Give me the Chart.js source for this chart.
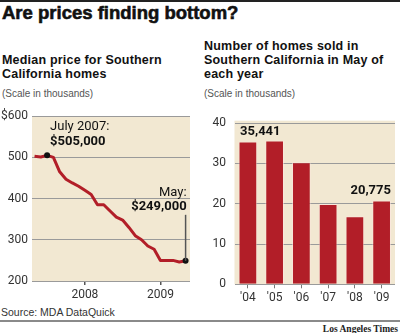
<!DOCTYPE html>
<html>
<head>
<meta charset="utf-8">
<script src="https://cdn.jsdelivr.net/npm/chart.js@4.4.0/dist/chart.umd.min.js"></script>
<style>
  html, body { margin: 0; padding: 0; background: #fff; }
  body { width: 400px; height: 333px; position: relative; overflow: hidden; font-family: 'Liberation Sans', Arial, sans-serif; color: #111; }
  .rule-top { position: absolute; left: 0; top: 0; width: 400px; height: 2px; background: #222; }
  .rule-bottom { position: absolute; left: 0; top: 320px; width: 400px; height: 2px; background: #8a8a8a; }
  .title { position: absolute; left: 2px; top: 1px; font-size: 18.5px; font-weight: 700; line-height: 24px; -webkit-text-stroke: 0.6px #111; white-space: nowrap; }
  .sub { position: absolute; font-size: 12.5px; font-weight: 700; line-height: 13.7px; letter-spacing: 0.2px; white-space: nowrap; }
  .note { position: absolute; font-size: 10px; color: #555; line-height: 12px; white-space: nowrap; }
  .credit { position: absolute; right: 2px; top: 323px; font-family: 'Liberation Serif', 'DejaVu Serif', serif; font-weight: 700; font-size: 9.5px; line-height: 12px; color: #222; }
  canvas { position: absolute; }
</style>
</head>
<body>
<div class="rule-top"></div>
<div class="title">Are prices finding bottom?</div>

<div class="sub" style="left:2px; top:53.8px;">Median price for Southern<br>California homes</div>
<div class="note" style="left:2px; top:87.5px;">(Scale in thousands)</div>

<div class="sub" style="left:204px; top:40.3px;">Number of homes sold in<br>Southern California in May of<br>each year</div>
<div class="note" style="left:204px; top:87.5px;">(Scale in thousands)</div>

<canvas id="priceChart" width="196" height="200" style="left:0; top:105px;"></canvas>
<canvas id="salesChart" width="204" height="200" style="left:196px; top:105px;"></canvas>

<div class="note" style="left:1px; top:306px; font-size:10.5px; color:#333;">Source: MDA DataQuick</div>
<div class="rule-bottom"></div>
<div class="credit">Los Angeles Times</div>

<script>
// Median price, thousands of dollars, monthly May 2007 - May 2009
const priceMonths = [
  'May 2007', 'Jun 2007', 'Jul 2007', 'Aug 2007', 'Sep 2007', 'Oct 2007', 'Nov 2007', 'Dec 2007',
  'Jan 2008', 'Feb 2008', 'Mar 2008', 'Apr 2008', 'May 2008', 'Jun 2008', 'Jul 2008', 'Aug 2008',
  'Sep 2008', 'Oct 2008', 'Nov 2008', 'Dec 2008',
  'Jan 2009', 'Feb 2009', 'Mar 2009', 'Apr 2009', 'May 2009'
];
const medianPrice = [
  503, 501, 505, 500, 465, 447, 438, 430,
  420, 410, 385, 385, 370, 355, 348, 330,
  310, 300, 285, 277,
  250, 250, 250, 246, 249
];
const priceYearTicks = ['2008', '2009'];
const priceAxisTicks = [200, 300, 400, 500, 600];

// Homes sold in May, thousands
const salesYears = ["'04", "'05", "'06", "'07", "'08", "'09"];
const homesSold = [35.441, 35.7, 30.3, 19.9, 16.9, 20.775];
const salesAxisTicks = [0, 10, 20, 30, 40];

const RED = '#b21e28';
const BEIGE = '#f2e8d2';
const TICK_GRAY = '#333';
const FONT = "Roboto, 'Noto Sans', sans-serif";

// month position relative to January 2008
function monthOffset(label) {
  const [mon, yr] = label.split(' ');
  const names = ['Jan','Feb','Mar','Apr','May','Jun','Jul','Aug','Sep','Oct','Nov','Dec'];
  return (Number(yr) - 2008) * 12 + names.indexOf(mon);
}

const beigeArea = {
  id: 'beigeArea',
  beforeDraw(chart) {
    const { ctx, chartArea: a } = chart;
    ctx.save();
    ctx.fillStyle = BEIGE;
    ctx.fillRect(a.left, a.top, a.right - a.left, a.bottom - a.top);
    ctx.restore();
  }
};

const dottedGrid = {
  color: '#9a9a9a',
  lineWidth: 1,
  borderDash: [1, 2],
  drawTicks: false
};

// ── PRICE LINE ───────────────────────────────────────────────────
const peakIdx = priceMonths.indexOf('Jul 2007');
const lastIdx = priceMonths.length - 1;

const priceNotes = {
  id: 'priceNotes',
  afterDatasetsDraw(chart) {
    const ctx = chart.ctx;
    const pts = chart.getDatasetMeta(0).data;
    const peak = pts[peakIdx];
    const last = pts[lastIdx];
    const fmt = v => '$' + (v * 1000).toLocaleString('en-US');

    ctx.save();
    ctx.fillStyle = '#111';
    ctx.textBaseline = 'middle';

    ctx.textAlign = 'left';
    ctx.font = `400 13px ${FONT}`;
    ctx.fillText('July 2007:', peak.x + 3, peak.y - 29);
    ctx.font = `700 13px ${FONT}`;
    ctx.fillText(fmt(medianPrice[peakIdx]), peak.x + 3, peak.y - 14);

    ctx.textAlign = 'right';
    ctx.font = `400 13px ${FONT}`;
    ctx.fillText('May:', last.x + 1, last.y - 68);
    ctx.font = `700 13px ${FONT}`;
    ctx.fillText(fmt(medianPrice[lastIdx]), last.x + 1, last.y - 54);

    ctx.strokeStyle = '#555';
    ctx.lineWidth = 1.5;
    ctx.beginPath();
    ctx.moveTo(last.x, last.y - 46);
    ctx.lineTo(last.x, last.y);
    ctx.stroke();
    ctx.restore();
  }
};

new Chart(document.getElementById('priceChart'), {
  type: 'line',
  data: {
    datasets: [{
      data: priceMonths.map((m, i) => ({ x: monthOffset(m), y: medianPrice[i] })),
      borderColor: RED,
      borderWidth: 3,
      borderJoinStyle: 'round',
      tension: 0,
      pointRadius: ctx => (ctx.dataIndex === peakIdx || ctx.dataIndex === lastIdx) ? 3 : 0,
      pointBackgroundColor: '#111',
      pointBorderWidth: 0,
      clip: false
    }]
  },
  options: {
    responsive: false,
    animation: false,
    events: [],
    layout: { padding: { top: 10, right: 6, left: 0, bottom: 0 } },
    plugins: { legend: { display: false }, tooltip: { enabled: false } },
    scales: {
      x: {
        type: 'linear',
        min: -8.4,
        max: 16.7,
        afterFit: s => { s.height = 24; },
        afterBuildTicks: s => { s.ticks = priceYearTicks.map(y => ({ value: (Number(y) - 2008) * 12 })); },
        border: { display: false },
        grid: { drawOnChartArea: false, drawTicks: true, tickLength: 4, color: '#555', lineWidth: 1.5 },
        ticks: {
          padding: 3,
          color: TICK_GRAY,
          font: { family: FONT, size: 12 },
          callback: v => String(2008 + v / 12)
        }
      },
      y: {
        min: 200,
        max: 600,
        afterFit: s => { s.width = 32; },
        afterBuildTicks: s => { s.ticks = priceAxisTicks.map(v => ({ value: v })); },
        border: { display: false },
        grid: dottedGrid,
        ticks: {
          padding: 4,
          color: TICK_GRAY,
          font: { family: FONT, size: 12 },
          callback: v => v === 600 ? '$600' : String(v)
        }
      }
    }
  },
  plugins: [beigeArea, priceNotes]
});

// ── HOMES SOLD BARS ──────────────────────────────────────────────
const barNotes = {
  id: 'barNotes',
  afterDatasetsDraw(chart) {
    const ctx = chart.ctx;
    const bars = chart.getDatasetMeta(0).data;
    const first = bars[0];
    const last = bars[bars.length - 1];
    const fmt = v => Math.round(v * 1000).toLocaleString('en-US');

    ctx.save();
    ctx.fillStyle = '#111';
    ctx.font = `700 13px ${FONT}`;
    ctx.textBaseline = 'middle';
    ctx.textAlign = 'left';
    ctx.fillText(fmt(homesSold[0]), first.x - first.width / 2 + 1.5, first.y - 9.5);
    ctx.textAlign = 'right';
    ctx.fillText(fmt(homesSold[homesSold.length - 1]), last.x + last.width / 2, last.y - 9.5);
    ctx.restore();
  }
};

new Chart(document.getElementById('salesChart'), {
  type: 'bar',
  data: {
    labels: salesYears,
    datasets: [{
      data: homesSold,
      backgroundColor: RED,
      borderColor: 'rgba(255, 230, 225, 0.55)',
      borderWidth: 1,
      categoryPercentage: 1,
      barPercentage: 0.7
    }]
  },
  options: {
    responsive: false,
    animation: false,
    events: [],
    layout: { padding: { top: 10, right: 5, left: 0, bottom: 0 } },
    plugins: { legend: { display: false }, tooltip: { enabled: false } },
    scales: {
      x: {
        afterFit: s => { s.height = 20.7; },
        border: { display: false },
        grid: { offset: false, drawOnChartArea: false, drawTicks: true, tickLength: 4, color: '#777', lineWidth: 1 },
        ticks: {
          padding: 2,
          color: TICK_GRAY,
          font: { family: FONT, size: 12 }
        }
      },
      y: {
        min: 0,
        max: 40.6,
        afterFit: s => { s.width = 38.5; },
        afterBuildTicks: s => { s.ticks = salesAxisTicks.map(v => ({ value: v })); },
        border: { display: false },
        grid: dottedGrid,
        ticks: {
          padding: 8.5,
          color: TICK_GRAY,
          font: { family: FONT, size: 12 }
        }
      }
    }
  },
  plugins: [beigeArea, barNotes]
});
</script>
</body>
</html>
